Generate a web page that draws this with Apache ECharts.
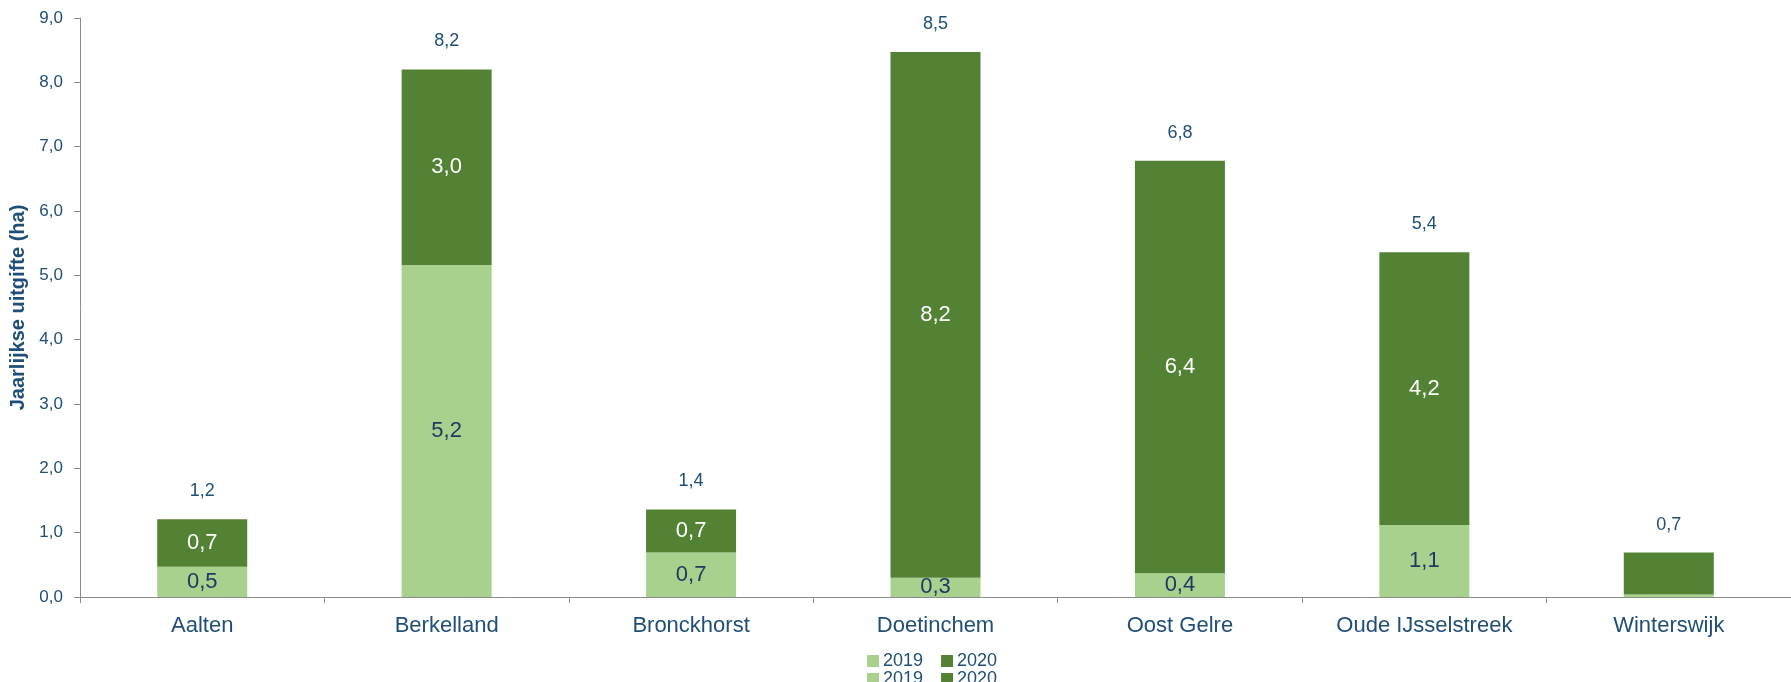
<!DOCTYPE html>
<html>
<head>
<meta charset="utf-8">
<script src="https://cdn.jsdelivr.net/npm/echarts@6/dist/echarts.min.js"></script>
<style>
  html, body { margin: 0; padding: 0; background: #ffffff; }
  #chart { width: 1791px; height: 682px; }
</style>
</head>
<body>
<div id="chart"></div>
<script>
// Jaarlijkse uitgifte bedrijventerrein per gemeente (ha)
const categories = ['Aalten', 'Berkelland', 'Bronckhorst', 'Doetinchem', 'Oost Gelre', 'Oude IJsselstreek', 'Winterswijk'];
const values2019 = [0.47, 5.16, 0.69, 0.30, 0.37, 1.12, 0.04];
const values2020 = [0.74, 3.04, 0.67, 8.17, 6.41, 4.24, 0.65];
const seriesNames = ['2019', '2020'];
// gemeenten zonder labels in de segmenten
const unlabeledSegments = ['Winterswijk'];

const totals = values2019.map((v, i) => +(v + values2020[i]).toFixed(2));

const fmt = v => Number(v).toFixed(1).replace('.', ',');
const FONT = 'Liberation Sans, Arial, sans-serif';
const BLUE = '#1f4e79';
const NAVY = '#203864';

function segmentData(values) {
  return values.map((v, i) => ({
    value: v,
    label: { show: !unlabeledSegments.includes(categories[i]) }
  }));
}

const chart = echarts.init(document.getElementById('chart'), null, { renderer: 'canvas' });

const legendBase = {
  data: seriesNames,
  left: 862,
  icon: 'rect',
  itemWidth: 12,
  itemHeight: 12,
  itemGap: 18,
  textStyle: { fontFamily: FONT, fontSize: 18, color: BLUE, padding: [0, 0, 0, -1] }
};

chart.setOption({
  animation: false,
  backgroundColor: '#ffffff',
  legend: [
    Object.assign({ top: 647 }, legendBase),
    Object.assign({ top: 665 }, legendBase)
  ],
  grid: { left: 80, right: -6, top: 18, bottom: 85, containLabel: false },
  xAxis: {
    type: 'category',
    data: categories,
    axisLine: { lineStyle: { color: '#8c8c8c', width: 1 } },
    axisTick: { show: true, alignWithLabel: false, length: 6, lineStyle: { color: '#8c8c8c' } },
    axisLabel: { fontFamily: FONT, fontSize: 22, color: BLUE, margin: 18 },
    splitLine: { show: false }
  },
  yAxis: {
    type: 'value',
    min: 0,
    max: 9,
    interval: 1,
    name: 'Jaarlijkse uitgifte (ha)',
    nameLocation: 'middle',
    nameGap: 50,
    nameRotate: 90,
    nameTextStyle: { fontFamily: FONT, fontSize: 20, fontWeight: 'bold', color: BLUE },
    axisLine: { show: true, lineStyle: { color: '#8c8c8c', width: 1 } },
    axisTick: { show: true, length: 6, lineStyle: { color: '#8c8c8c' } },
    axisLabel: { fontFamily: FONT, fontSize: 17, color: BLUE, margin: 17, formatter: v => fmt(v) },
    splitLine: { show: false }
  },
  series: [
    {
      name: seriesNames[0],
      type: 'bar',
      stack: 'uitgifte',
      barWidth: 90,
      data: segmentData(values2019),
      itemStyle: { color: '#a9d18e' },
      label: {
        show: true, position: 'inside', fontFamily: FONT, fontSize: 22, color: NAVY,
        formatter: p => fmt(p.value)
      }
    },
    {
      name: seriesNames[1],
      type: 'bar',
      stack: 'uitgifte',
      barWidth: 90,
      data: segmentData(values2020),
      itemStyle: { color: '#548235' },
      label: {
        show: true, position: 'inside', fontFamily: FONT, fontSize: 22, color: '#ffffff',
        formatter: p => fmt(p.value)
      }
    },
    {
      name: 'Totaal',
      type: 'bar',
      barWidth: 90,
      barGap: '-100%',
      z: 0,
      data: totals,
      itemStyle: { color: 'rgba(0,0,0,0)' },
      label: {
        show: true, position: 'top', distance: 19, fontFamily: FONT, fontSize: 18, color: BLUE,
        formatter: p => fmt(p.value)
      }
    }
  ]
});
</script>
</body>
</html>
